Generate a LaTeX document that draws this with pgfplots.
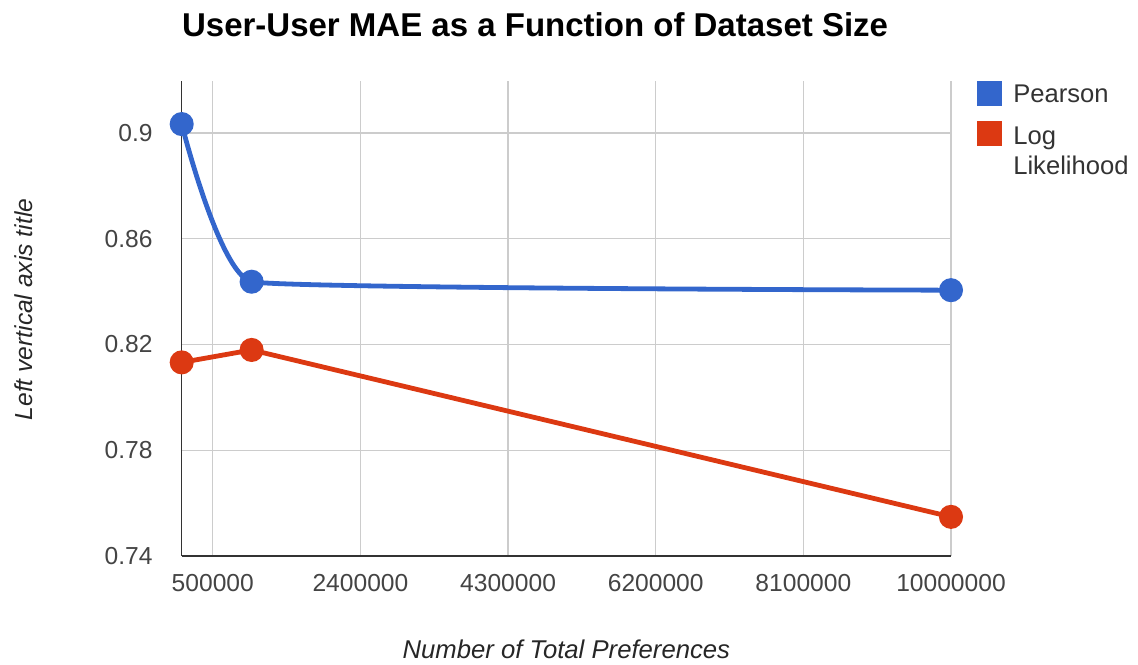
\documentclass[border=0pt]{standalone}
\usepackage{fontspec}
\setmainfont{Liberation Sans}
\usepackage{pgfplots}
\pgfplotsset{compat=1.18}
\definecolor{gblue}{HTML}{3366CC}
\definecolor{gred}{HTML}{DC3912}
\definecolor{ggrid}{HTML}{CCCCCC}
\definecolor{gtick}{HTML}{444444}
\definecolor{gaxis}{HTML}{333333}
\begin{document}
\begin{tikzpicture}
\path[use as bounding box] (-90.85pt,-54pt) rectangle (478.15pt,278pt);
\begin{axis}[
  at={(0,0)}, anchor=south west,
  scale only axis, width=384.65pt, height=237.65pt,
  xmin=100000, xmax=10000000, ymin=0.74, ymax=0.9197,
  xtick={500000,2400000,4300000,6200000,8100000,10000000},
  ytick={0.74,0.78,0.82,0.86,0.9},
  scaled x ticks=false, scaled y ticks=false,
  xticklabel style={/pgf/number format/fixed, /pgf/number format/1000 sep={}, /pgf/number format/assume math mode=true, anchor=base, yshift=-17.5pt, inner sep=0pt, font=\fontsize{12.3}{14}\selectfont, text=gtick},
  yticklabel style={/pgf/number format/fixed, /pgf/number format/precision=2, /pgf/number format/assume math mode=true, anchor=east, xshift=-14.35pt, inner sep=0pt, font=\fontsize{12.3}{14}\selectfont, text=gtick},
  major tick length=0pt,
  axis x line*=bottom, axis y line*=left,
  axis line style={-, gaxis, line width=0.75pt},
  grid=major, major grid style={ggrid, line width=0.7pt},
  clip=false,
  title={User-User MAE as a Function of Dataset Size},
  title style={at={(axis description cs:0,1)}, anchor=base west, yshift=16pt, inner sep=0pt, font=\bfseries\fontsize{16.5}{20}\selectfont},
  xlabel={Number of Total Preferences},
  xlabel style={at={(axis description cs:0.5,0)}, anchor=base, yshift=-51pt, inner sep=0pt, font=\itshape\fontsize{12.85}{15}\selectfont, text=black!85},
  ylabel={Left vertical axis title},
  ylabel style={at={(axis description cs:0,0.5185)}, anchor=base, yshift=74.35pt, inner sep=0pt, font=\itshape\fontsize{12.3}{15}\selectfont, text=black!85},
  legend style={at={(axis description cs:1,1)}, anchor=north west, xshift=13.15pt, draw=none, fill=none, inner sep=0pt, outer sep=0pt, row sep=7.5pt, column sep=5.5pt, nodes={inner sep=0pt, font=\fontsize{12.8}{15}\selectfont, text=black!80}},
  legend cell align=left,
  legend image code/.code={\path[#1, draw=none, fill=.] (0pt,-5.3pt) rectangle (12.5pt,7.2pt);},
]
\addplot[color=gblue, line width=2.4pt, mark=*, mark size=4.8pt, smooth, tension=0.15] coordinates {
  (100000,0.9033) (1000000,0.8437) (10000000,0.8405)
};
\addlegendentry{Pearson}
\addplot[color=gred, line width=2.4pt, mark=*, mark size=4.8pt, sharp plot] coordinates {
  (100000,0.8132) (1000000,0.8179) (10000000,0.7548)
};
\addlegendentry{\begin{tabular}[t]{@{}l@{}}Log\\Likelihood\end{tabular}}
\end{axis}
\end{tikzpicture}
\end{document}
